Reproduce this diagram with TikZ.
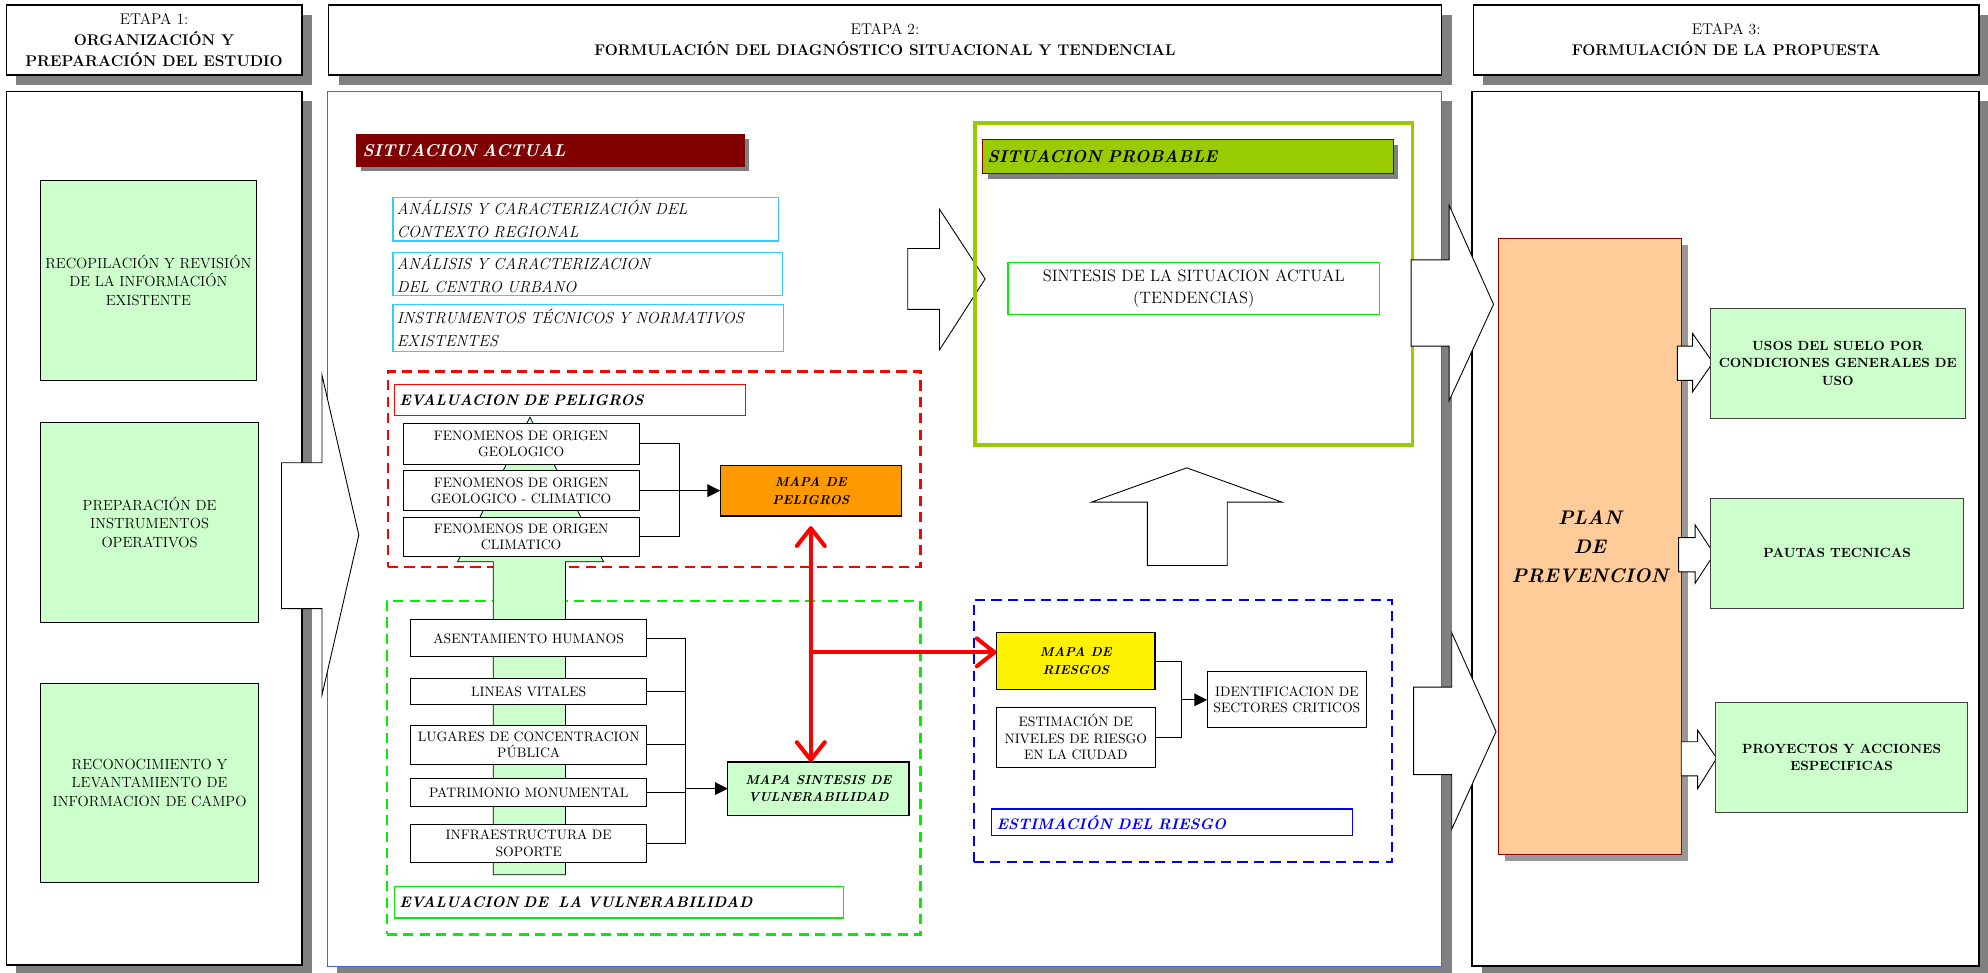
\documentclass[tikz,border=0pt]{standalone}
\usetikzlibrary{arrows.meta,shadows}
\definecolor{shgray}{RGB}{128,128,128}
\definecolor{maroon}{RGB}{128,0,0}
\definecolor{lime}{RGB}{153,204,0}
\definecolor{mint}{RGB}{204,255,204}
\definecolor{pelorange}{RGB}{255,153,0}
\definecolor{peach}{RGB}{255,204,153}
\definecolor{cyanline}{RGB}{51,204,255}
\definecolor{colblue}{RGB}{60,100,240}
\definecolor{brightgreen}{RGB}{0,240,0}
\definecolor{planred}{RGB}{153,0,0}
\begin{document}
\begin{tikzpicture}[x=1pt,y=1pt]
\tikzstyle{every node}+=[inner sep=0pt, outer sep=0pt]
\tikzstyle{hdrbox}=[draw=black, line width=1.2pt, fill=white, anchor=north west, align=center, font=\fontsize{12.2}{16.5}\selectfont, drop shadow={shadow xshift=8pt, shadow yshift=-8pt, opacity=1, fill=shgray}]
\tikzstyle{colbox}=[draw=black, line width=1.2pt, fill=white, anchor=north west, drop shadow={shadow xshift=8pt, shadow yshift=-8pt, opacity=1, fill=shgray}]
\tikzstyle{mintbox}=[draw=black, line width=0.8pt, fill=mint, anchor=north west, align=center, font=\fontsize{11.6}{14.5}\selectfont]
\tikzstyle{cyanbox}=[draw=cyanline, line width=1pt, fill=white, anchor=north west, align=left, inner xsep=3pt, font=\fontsize{12.6}{18}\selectfont\itshape]
\tikzstyle{plainbox}=[draw=black, line width=0.8pt, fill=white, anchor=north west, align=center, font=\fontsize{10.8}{13}\selectfont]
\tikzstyle{mapbox}=[draw=black, line width=1pt, anchor=north west, align=center, font=\fontsize{10.2}{14}\selectfont\bfseries\itshape]
\tikzstyle{titlebox}=[line width=1pt, fill=white, anchor=north west, align=left, inner xsep=4pt, font=\fontsize{12}{14}\selectfont\bfseries\itshape]
\tikzstyle{propbox}=[draw=black!75, line width=0.8pt, fill=mint, anchor=north west, align=center, font=\fontsize{10.5}{14}\selectfont\bfseries]
\tikzstyle{framebox}=[line width=1.8pt, dash pattern=on 8pt off 5pt, anchor=north west]
\tikzstyle{blockarrow}=[draw=black, line width=0.7pt, fill=white, line join=miter]
\tikzstyle{link}=[draw=black, line width=0.8pt]
\tikzstyle{linkarrow}=[link, -{Triangle[length=10pt,width=10pt]}]
\tikzstyle{riskarrow}=[draw=red, line width=3.2pt, line cap=round, >={Straight Barb[length=14pt,width=22pt,round]}]
\useasboundingbox (0,0) rectangle (1568,-767);
\node [hdrbox, minimum width=233, minimum height=55] (hd1) at (5,-4) {ETAPA 1:\\\textbf{ORGANIZACIÓN Y}\\\textbf{PREPARACIÓN DEL ESTUDIO}};
\node [hdrbox, minimum width=878, minimum height=55] (hd2) at (259,-4) {ETAPA 2:\\\textbf{FORMULACIÓN DEL DIAGNÓSTICO SITUACIONAL Y TENDENCIAL}};
\node [hdrbox, minimum width=399, minimum height=55] (hd3) at (1162,-4) {ETAPA 3:\\\textbf{FORMULACIÓN DE LA PROPUESTA}};
\node [colbox, minimum width=233, minimum height=689] (col1) at (5,-72) {};
\node [colbox, draw=colblue, line width=0.8pt, minimum width=879, minimum height=690] (col2) at (258,-72) {};
\node [colbox, minimum width=400, minimum height=690] (col3) at (1161,-72) {};
\node [mintbox, minimum width=170, minimum height=158] (rec) at (32,-142) {RECOPILACIÓN Y REVISIÓN\\DE LA INFORMACIÓN\\EXISTENTE};
\node [mintbox, minimum width=172, minimum height=158] (pre) at (32,-333) {PREPARACIÓN DE\\INSTRUMENTOS\\OPERATIVOS};
\node [mintbox, minimum width=172, minimum height=157] (rcn) at (32,-539) {RECONOCIMIENTO Y\\LEVANTAMIENTO DE\\INFORMACION DE CAMPO};
\draw [blockarrow] (222,-365) -- (254,-365) -- (254,-296) -- (283,-422) -- (254,-548) -- (254,-480) -- (222,-480) -- cycle;
\node [titlebox, fill=maroon, draw=maroon, text=white, inner xsep=5pt, text width=296, minimum height=25, font=\fontsize{13.5}{15}\selectfont\bfseries\itshape, drop shadow={shadow xshift=4pt, shadow yshift=-4pt, opacity=1, fill=shgray}] (sitact) at (281,-106) {SITUACION ACTUAL};
\node [cyanbox, text width=298, minimum height=34] (ctx) at (310,-156) {ANÁLISIS Y CARACTERIZACIÓN DEL\\CONTEXTO REGIONAL};
\node [cyanbox, text width=301, minimum height=34] (urb) at (310,-199) {ANÁLISIS Y CARACTERIZACION\\DEL CENTRO URBANO};
\node [cyanbox, text width=302, minimum height=37] (ins) at (310,-240) {INSTRUMENTOS TÉCNICOS Y NORMATIVOS\\EXISTENTES};
\draw [blockarrow] (716,-196) -- (741,-196) -- (741,-165) -- (777,-220) -- (741,-276) -- (741,-244) -- (716,-244) -- cycle;
\node [framebox, draw=red, minimum width=420, minimum height=154] (frpel) at (306,-293) {};
\node [framebox, draw=brightgreen, minimum width=421, minimum height=263] (frvul) at (305,-474) {};
\node [framebox, draw=blue, minimum width=330, minimum height=207] (frrie) at (768,-473) {};
\node [draw=lime, line width=2.6pt, anchor=north west, minimum width=345, minimum height=254] (frpro) at (769,-97) {};
\draw [draw=black, line width=0.6pt, fill=mint] (389,-690) -- (389,-443) -- (361,-443) -- (418,-329) -- (476,-443) -- (446,-443) -- (446,-690) -- cycle;
\node [titlebox, draw=red, text width=269, minimum height=25] (tpel) at (311,-303) {EVALUACION DE PELIGROS};
\node [titlebox, draw=brightgreen, text width=346, minimum height=25] (tvul) at (311,-699) {EVALUACION DE~ LA VULNERABILIDAD};
\node [titlebox, draw=blue, text=blue, text width=277, minimum height=21] (trie) at (782,-638) {ESTIMACIÓN DEL RIESGO};
\node [plainbox, minimum width=186, minimum height=32] (fgeo) at (318,-334) {FENOMENOS DE ORIGEN\\GEOLOGICO};
\node [plainbox, minimum width=186, minimum height=32] (fgcl) at (318,-371) {FENOMENOS DE ORIGEN\\GEOLOGICO - CLIMATICO};
\node [plainbox, minimum width=186, minimum height=31] (fcli) at (318,-408) {FENOMENOS DE ORIGEN\\CLIMATICO};
\node [mapbox, fill=pelorange, minimum width=143, minimum height=40] (mpel) at (568,-367) {MAPA DE\\PELIGROS};
\coordinate (pbus) at (536,-387);
\draw [link] (fgeo.east) -| (pbus) |- (fcli.east);
\draw [linkarrow] (fgcl.east) -- (mpel.west);
\node [plainbox, minimum width=186, minimum height=29] (vase) at (324,-489) {ASENTAMIENTO HUMANOS};
\node [plainbox, minimum width=186, minimum height=21] (vlin) at (324,-535) {LINEAS VITALES};
\node [plainbox, minimum width=186, minimum height=31] (vlug) at (324,-572) {LUGARES DE CONCENTRACION\\PÚBLICA};
\node [plainbox, minimum width=186, minimum height=22] (vpat) at (324,-614) {PATRIMONIO MONUMENTAL};
\node [plainbox, minimum width=186, minimum height=30] (vinf) at (324,-650) {INFRAESTRUCTURA DE\\SOPORTE};
\node [mapbox, fill=mint, minimum width=143, minimum height=42] (msin) at (574,-601) {MAPA SINTESIS DE\\VULNERABILIDAD};
\coordinate (vbus) at (541,-622);
\draw [link] (vase.east) -| (vbus) |- (vinf.east);
\draw [link] (vlin.east) -- (vlin.east -| vbus);
\draw [link] (vlug.east) -- (vlug.east -| vbus);
\draw [link] (vpat.east) -- (vpat.east -| vbus);
\draw [linkarrow] (vbus) -- (msin.west);
\node [titlebox, fill=lime, draw=maroon, text width=316, minimum height=27, font=\fontsize{13.5}{15}\selectfont\bfseries\itshape, drop shadow={shadow xshift=4pt, shadow yshift=-4pt, opacity=1, fill=shgray}] (sitpro) at (775,-110) {SITUACION PROBABLE};
\node [plainbox, draw=brightgreen, line width=1pt, minimum width=293, minimum height=41, font=\fontsize{13}{17}\selectfont] (sint) at (795,-207) {SINTESIS DE LA SITUACION ACTUAL\\(TENDENCIAS)};
\draw [blockarrow] (905,-446) -- (905,-396) -- (861,-396) -- (936,-369) -- (1011,-396) -- (968,-396) -- (968,-446) -- cycle;
\node [mapbox, fill=yellow, minimum width=125, minimum height=45] (mries) at (786,-499) {MAPA DE\\RIESGOS};
\node [plainbox, minimum width=125, minimum height=47] (estr) at (786,-558) {ESTIMACIÓN DE\\NIVELES DE RIESGO\\EN LA CIUDAD};
\node [plainbox, minimum width=126, minimum height=44] (ident) at (952,-530) {IDENTIFICACION DE\\SECTORES CRITICOS};
\coordinate (rbus) at (932,-552);
\draw [link] (mries.east) -| (rbus) |- (estr.east);
\draw [linkarrow] (rbus) -- (ident.west);
\coordinate (rtip) at ([yshift=7pt]mries.west);
\draw [riskarrow, <->] ([yshift=-8pt]mpel.south) -- (mpel.south |- msin.north);
\draw [riskarrow, ->] (mpel.south |- rtip) -- (rtip);
\draw [blockarrow] (1113,-205) -- (1143,-205) -- (1143,-162) -- (1178,-240) -- (1143,-316) -- (1143,-273) -- (1113,-273) -- cycle;
\draw [blockarrow] (1115,-542) -- (1145,-542) -- (1145,-499) -- (1180,-577) -- (1145,-654) -- (1145,-611) -- (1115,-611) -- cycle;
\node [draw=planred, line width=0.8pt, fill=peach, anchor=north west, minimum width=144, minimum height=486, align=center, font=\fontsize{15.5}{23}\selectfont\bfseries\itshape, drop shadow={shadow xshift=5pt, shadow yshift=-5pt, opacity=1, fill=gray!80}] (plan) at (1182,-188) {PLAN\\DE\\PREVENCION};
\draw [blockarrow] (1323,-273) -- (1335,-273) -- (1335,-263) -- (1351,-286) -- (1335,-309) -- (1335,-300) -- (1323,-300) -- cycle;
\draw [blockarrow] (1324,-424) -- (1337,-424) -- (1337,-414) -- (1352,-437) -- (1337,-460) -- (1337,-451) -- (1324,-451) -- cycle;
\draw [blockarrow] (1326,-585) -- (1339,-585) -- (1339,-576) -- (1354,-598) -- (1339,-622) -- (1339,-612) -- (1326,-612) -- cycle;
\node [propbox, minimum width=201, minimum height=87] (usos) at (1349,-243) {USOS DEL SUELO POR\\CONDICIONES GENERALES DE\\USO};
\node [propbox, minimum width=200, minimum height=87] (paut) at (1349,-393) {PAUTAS TECNICAS};
\node [propbox, minimum width=199, minimum height=87] (proy) at (1353,-554) {PROYECTOS Y ACCIONES\\ESPECIFICAS};
\end{tikzpicture}
\end{document}
